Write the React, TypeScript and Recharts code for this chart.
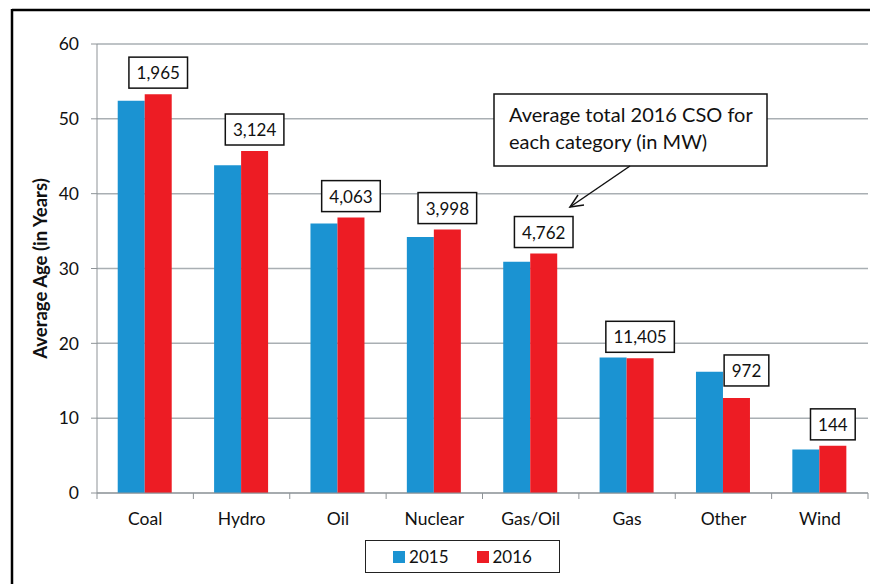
import React from 'react';
import { BarChart, Bar, XAxis, YAxis, CartesianGrid, Legend, LabelList } from 'recharts';

const categories = ['Coal', 'Hydro', 'Oil', 'Nuclear', 'Gas/Oil', 'Gas', 'Other', 'Wind'];
const age2015 = [52.4, 43.8, 36.0, 34.2, 30.9, 18.1, 16.2, 5.8];
const age2016 = [53.3, 45.7, 36.8, 35.2, 32.0, 18.0, 12.7, 6.3];
const cso2016 = ['1,965', '3,124', '4,063', '3,998', '4,762', '11,405', '972', '144'];
const yTicks = [0, 10, 20, 30, 40, 50, 60];

const data = categories.map((name, i) => ({
  name,
  y2015: age2015[i],
  y2016: age2016[i],
  cso: cso2016[i],
}));

const FONT = 'Lato, "Open Sans", sans-serif';
const BLUE = '#1B93D2';
const RED = '#ED1C24';
const GRID = '#A9AFB3';
const AXIS = '#8E9397';

// the "Other" label was moved by hand in the original
const labelNudge: Record<string, [number, number]> = { Other: [10, -6] };

const CsoLabel = (props: any) => {
  const { x, y, width, value, index } = props;
  const text = String(value);
  const digits = text.replace(/,/g, '').length;
  const commas = text.length - digits;
  const w = digits * 9.9 + commas * 4 + 15;
  const h = 31;
  const [nx, ny] = labelNudge[categories[index]] || [0, 0];
  const cx = x + width / 2 + nx;
  const bottom = y - 6 + ny;
  return (
    <g>
      <rect x={cx - w / 2} y={bottom - h} width={w} height={h} fill="#fff" stroke="#111" strokeWidth={1.5} />
      <text x={cx} y={bottom - h / 2} textAnchor="middle" dominantBaseline="central" fontSize={17} fontFamily={FONT} fill="#111">
        {text}
      </text>
    </g>
  );
};

const CategoryTick = (props: any) => {
  const { x, y, payload, index, visibleTicksCount } = props;
  const half = payload && payload.offset ? payload.offset : 48.2;
  return (
    <g>
      <line x1={x - half} x2={x - half} y1={y - 6} y2={y} stroke={AXIS} />
      {index === visibleTicksCount - 1 && <line x1={x + half} x2={x + half} y1={y - 6} y2={y} stroke={AXIS} />}
      <text x={x} y={y + 26} textAnchor="middle" fontSize={17.5} fontFamily={FONT} fill="#111">
        {payload.value}
      </text>
    </g>
  );
};

const LegendBox = (props: any) => {
  const { payload } = props;
  return (
    <div
      style={{
        boxSizing: 'border-box',
        width: 195,
        height: 33,
        border: '1.5px solid #222',
        display: 'flex',
        alignItems: 'center',
        justifyContent: 'center',
        gap: 28,
        fontFamily: FONT,
        fontSize: 17,
        color: '#111',
        background: '#fff',
      }}
    >
      {(payload || []).map((p: any) => (
        <div key={p.value} style={{ display: 'flex', alignItems: 'center', gap: 4 }}>
          <span style={{ width: 12, height: 12, background: p.color, display: 'inline-block' }} />
          <span>{p.value}</span>
        </div>
      ))}
    </div>
  );
};

const YLabel = (props: any) => {
  const vb = props.viewBox || { x: 0, y: 44, width: 97, height: 449 };
  const cx = vb.x + 40;
  const cy = vb.y + vb.height / 2;
  return (
    <text
      x={cx}
      y={cy}
      transform={`rotate(-90 ${cx} ${cy})`}
      textAnchor="middle"
      dominantBaseline="central"
      fontSize={18.5}
      fontWeight="bold"
      fontFamily={FONT}
      fill="#111"
    >
      Average Age (in Years)
    </text>
  );
};

export default function App() {
  return (
    <div style={{ position: 'absolute', left: 0, top: 0, width: 870, height: 584, overflow: 'hidden', background: '#fff' }}>
      <svg width={870} height={584} style={{ position: 'absolute', left: 0, top: 0 }}>
        <line x1={12} y1={10} x2={870} y2={10} stroke="#000" strokeWidth={2.5} />
        <line x1={12} y1={9} x2={12} y2={584} stroke="#000" strokeWidth={2.5} />
      </svg>
      <div style={{ position: 'absolute', left: 0, top: 0 }}>
        <BarChart
          width={870}
          height={584}
          data={data}
          margin={{ top: 44, right: 2, left: 0, bottom: 61 }}
          barCategoryGap="21.5%"
          barGap={0}
        >
          <CartesianGrid vertical={false} stroke={GRID} strokeWidth={1.5} />
          <XAxis
            dataKey="name"
            height={30}
            tickLine={false}
            tickSize={6}
            tickMargin={0}
            axisLine={{ stroke: AXIS }}
            tick={<CategoryTick />}
            interval={0}
          />
          <YAxis
            width={97}
            domain={[0, 60]}
            ticks={yTicks}
            tickSize={6}
            tickMargin={12}
            axisLine={{ stroke: AXIS }}
            tickLine={{ stroke: AXIS }}
            tick={{ fontSize: 17.5, fontFamily: FONT, fill: '#111' }}
            label={<YLabel />}
          />
          <Legend
            layout="horizontal"
            verticalAlign="middle"
            align="center"
            content={<LegendBox />}
            wrapperStyle={{ left: 365, top: 540, width: 195, height: 33 }}
          />
          <Bar dataKey="y2015" name="2015" fill={BLUE} isAnimationActive={false} />
          <Bar dataKey="y2016" name="2016" fill={RED} isAnimationActive={false}>
            <LabelList dataKey="cso" content={<CsoLabel />} />
          </Bar>
        </BarChart>
      </div>
      <svg width={870} height={584} style={{ position: 'absolute', left: 0, top: 0, pointerEvents: 'none' }}>
        <rect x={494} y={94} width={273} height={72} fill="#fff" stroke="#111" strokeWidth={1.5} />
        <text x={509} y={122} fontSize={20} fontFamily={FONT} fill="#111">
          Average total 2016 CSO for
        </text>
        <text x={509} y={149} fontSize={20} fontFamily={FONT} fill="#111">
          each category (in MW)
        </text>
        <line x1={630} y1={166} x2={570} y2={207} stroke="#111" strokeWidth={1.5} />
        <polyline points="578,195 570,207 584,205" fill="none" stroke="#111" strokeWidth={1.5} />
      </svg>
    </div>
  );
}
